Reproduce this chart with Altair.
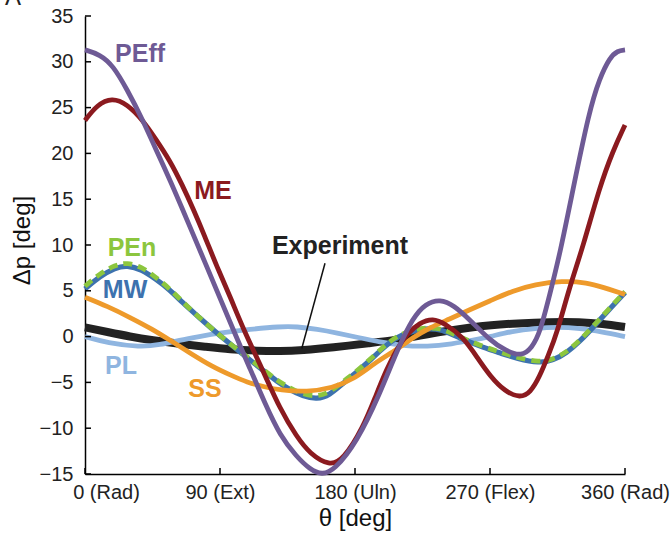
import altair as alt
import pandas as pd

FONT = "Liberation Sans"

# Axis ticks and their labels
theta_ticks = [0, 90, 180, 270, 360]
theta_tick_labels = ["0 (Rad)", "90 (Ext)", "180 (Uln)", "270 (Flex)", "360 (Rad)"]
dp_ticks = [-15, -10, -5, 0, 5, 10, 15, 20, 25, 30, 35]

# Experiment
exp_theta = [0, 15, 30, 45, 63, 80, 96.7, 115, 130, 145, 165, 190, 208, 223, 240,
             256.7, 270, 288, 310, 330, 345, 360]
exp_dp = [1.0, 0.5, 0.0, -0.4, -0.8, -1.1, -1.4, -1.55, -1.6, -1.5, -1.2, -0.7, -0.35,
          0.1, 0.6, 1.0, 1.25, 1.45, 1.6, 1.6, 1.4, 1.05]

# PL
pl_theta = [0, 15, 36.7, 50, 63, 76, 90, 110, 130, 141, 155, 168, 182, 196.7, 212, 228,
            245, 258, 270, 285, 300, 315, 330, 345, 360]
pl_dp = [0.0, -0.7, -1.15, -0.9, -0.4, 0.0, 0.4, 0.8, 1.1, 1.1, 0.8, 0.4, -0.1, -0.6,
         -1.0, -1.1, -0.8, -0.4, 0.0, 0.6, 0.9, 1.05, 0.9, 0.5, 0.0]

# SS
ss_theta = [0, 15, 30, 45, 56.7, 70, 85, 97, 108, 120, 130, 148, 165, 178.7, 193, 208,
            218.7, 230, 243, 256, 270, 285, 300, 318, 335, 345, 360]
ss_dp = [4.3, 3.3, 2.1, 0.8, -0.4, -1.8, -3.3, -4.2, -5.0, -5.5, -5.85, -6.05, -5.6, -4.7,
         -2.9, -1.4, -0.1, 1.0, 1.9, 2.9, 3.9, 5.0, 5.7, 6.1, 5.9, 5.4, 4.6]

# MW and PEn share the same sampling angles
mw_theta = [0, 10, 20, 28, 38, 47, 56.7, 65, 74.7, 85, 96.7, 108, 118.9, 128, 136.7, 145,
            154.7, 163, 172, 181, 190, 199, 208, 221, 234.7, 243, 252, 265.6, 277, 288,
            303, 312, 321, 330, 338.7, 348, 360]
mw_dp = [5.2, 6.6, 7.5, 7.8, 7.3, 6.3, 5.1, 3.7, 2.3, 0.8, -0.8, -2.3, -3.7, -4.9, -5.8,
         -6.5, -6.85, -6.4, -5.1, -3.9, -2.6, -1.2, 0.0, 0.8, 0.9, 0.4, -0.3, -1.2, -1.8,
         -2.4, -2.9, -2.6, -1.8, -0.5, 1.0, 2.7, 4.8]
pen_dp = [5.5, 6.9, 7.8, 8.1, 7.6, 6.5, 5.2, 3.8, 2.3, 0.8, -0.8, -2.2, -3.6, -4.8, -5.6,
          -6.3, -6.55, -6.1, -4.9, -3.8, -2.5, -1.1, 0.1, 0.9, 1.0, 0.5, -0.2, -1.1, -1.7,
          -2.3, -2.8, -2.5, -1.7, -0.4, 1.1, 2.8, 4.9]

# ME
me_theta = [0, 8, 18, 28, 38.7, 47, 56.7, 65, 72, 80, 88, 96.7, 105.3, 118.9, 130, 141,
            150, 163, 172, 185.6, 194, 201, 208, 214.7, 223, 232, 240, 252, 262, 270, 280,
            290, 297, 303, 309, 314.7, 323, 332, 343, 352, 360]
me_dp = [23.6, 25.3, 26.1, 25.4, 23.6, 21.6, 19.2, 16.5, 14.0, 10.9, 7.6, 4.4, 0.9, -3.8,
         -7.9, -10.9, -12.8, -14.1, -13.5, -9.9, -6.4, -3.6, -1.3, 0.3, 1.5, 2.0, 1.4,
         0.0, -2.4, -4.3, -6.0, -6.7, -6.1, -4.4, -2.0, 0.4, 5.4, 9.8, 16.3, 20.3, 23.1]

# PEff
peff_theta = [0, 10, 18.7, 28, 38.7, 47, 56.7, 65, 72, 80, 90, 100, 110, 120, 130, 141,
              150, 158, 166, 181, 196.7, 208, 218.7, 227, 236.7, 246, 256.7, 270, 280,
              291, 298, 303.3, 310, 316.7, 325.6, 336, 343, 350, 355, 360]
peff_dp = [31.3, 30.8, 29.6, 27.0, 23.6, 20.5, 17.1, 13.9, 11.2, 8.1, 4.2, 0.3, -3.5,
           -7.3, -10.8, -13.1, -14.5, -15.1, -14.6, -11.6, -6.2, -1.5, 2.1, 3.6, 4.1,
           3.4, 1.8, -0.4, -1.5, -2.2, -1.2, 0.4, 4.7, 9.1, 16.3, 24.5, 28.2, 30.5, 31.2,
           31.3]

series_names = ["Experiment", "PL", "SS", "MW", "PEn", "ME", "PEff"]
series_colors = ["#222222", "#8fb5e0", "#ee9a2b", "#3d72ae", "#8cc63e", "#8b1a1f", "#6e5a95"]

# Curve labels and where they sit
label_theta = [170, 24, 80, 26.7, 31.3, 85.3, 36.7]
label_dp = [9.9, -3.2, -5.7, 5.1, 9.7, 15.9, 30.9]

# Leader line from the "Experiment" label to its curve
leader_theta = [160]
leader_dp = [8.0]
leader_theta2 = [144.5]
leader_dp2 = [-1.3]


def frame(name, xs, ys):
    return pd.DataFrame({"series": name, "theta": xs, "dp": ys})


color_scale = alt.Scale(domain=series_names, range=series_colors)

label_expr = " : ".join(
    f"datum.value == {v} ? '{t}'" for v, t in zip(theta_ticks, theta_tick_labels)
) + " : ''"

x_axis = alt.Axis(
    values=theta_ticks,
    labelExpr=label_expr,
    title="θ [deg]",
    ticks=False,
    tickSize=0,
    labelPadding=8,
    labelFlush=False,
    labelOverlap=False,
    labelOffset={"condition": {"test": "datum.value == 0", "value": 21}, "value": 0},
    titleX=270,
    titleY=44,
    titleAlign="center",
    titleBaseline="middle",
)
y_axis = alt.Axis(
    values=dp_ticks,
    format="d",
    title="Δp [deg]",
    ticks=False,
    tickSize=0,
    labelPadding=12,
    labelFlush=False,
    titleX=-63,
    titleY=224,
    titleAngle=270,
    titleAlign="center",
    titleBaseline="middle",
)

x_enc = alt.X("theta:Q", scale=alt.Scale(domain=[0, 360], nice=False, zero=False), axis=x_axis)
y_enc = alt.Y("dp:Q", scale=alt.Scale(domain=[-15, 35], nice=False, zero=False), axis=y_axis)
c_enc = alt.Color("series:N", scale=color_scale, legend=None)


def curve(df, width, dash=None):
    kw = dict(strokeWidth=width, interpolate="basis", strokeCap="butt")
    if dash:
        kw["strokeDash"] = dash
    return alt.Chart(df).mark_line(**kw).encode(x=x_enc, y=y_enc, color=c_enc)


layers = [
    curve(frame("Experiment", exp_theta, exp_dp), 8),
    curve(frame("PL", pl_theta, pl_dp), 4.8),
    curve(frame("MW", mw_theta, mw_dp), 5.2),
    curve(frame("PEn", mw_theta, pen_dp), 4.8, dash=[9, 6]),
    curve(frame("SS", ss_theta, ss_dp), 4.8),
    curve(frame("ME", me_theta, me_dp), 4.8),
    curve(frame("PEff", peff_theta, peff_dp), 4.8),
]

# Inward-pointing tick marks
x_tick_marks = alt.Chart(pd.DataFrame({"theta": theta_ticks})).mark_rule(
    color="black", strokeWidth=1.5
).encode(x=x_enc, y=alt.value(458), y2=alt.value(452))
y_tick_marks = alt.Chart(pd.DataFrame({"dp": dp_ticks})).mark_rule(
    color="black", strokeWidth=1.5
).encode(y=y_enc, x=alt.value(0), x2=alt.value(6))

leader = alt.Chart(
    pd.DataFrame({"theta": leader_theta, "dp": leader_dp, "t2": leader_theta2, "d2": leader_dp2})
).mark_rule(color="#111111", strokeWidth=1.5).encode(x=x_enc, y=y_enc, x2="t2:Q", y2="d2:Q")

labels = alt.Chart(
    pd.DataFrame({"series": series_names, "label": series_names, "theta": label_theta, "dp": label_dp})
).mark_text(font=FONT, fontSize=25, fontWeight="bold", align="center", baseline="middle").encode(
    x=x_enc, y=y_enc, text="label:N", color=c_enc
)

panel = alt.Chart(pd.DataFrame({"t": ["A"]})).mark_text(
    font=FONT, fontSize=24, align="left", baseline="alphabetic", color="#222222"
).encode(x=alt.value(-80), y=alt.value(-11), text="t:N")

chart = (
    alt.layer(*layers, leader, x_tick_marks, y_tick_marks, labels, panel)
    .properties(
        width=540,
        height=458,
        autosize=alt.AutoSizeParams(type="none"),
        padding={"left": 85, "top": 16, "right": 47, "bottom": 69},
    )
    .configure_view(stroke=None)
    .configure_axis(
        grid=False,
        domainColor="black",
        domainWidth=1.5,
        labelFont=FONT,
        labelFontSize=20,
        labelColor="#222222",
        titleFont=FONT,
        titleFontSize=24,
        titleFontWeight="normal",
        titleColor="#111111",
    )
)

chart.save("out.html", embed_options={"renderer": "svg", "actions": False})
